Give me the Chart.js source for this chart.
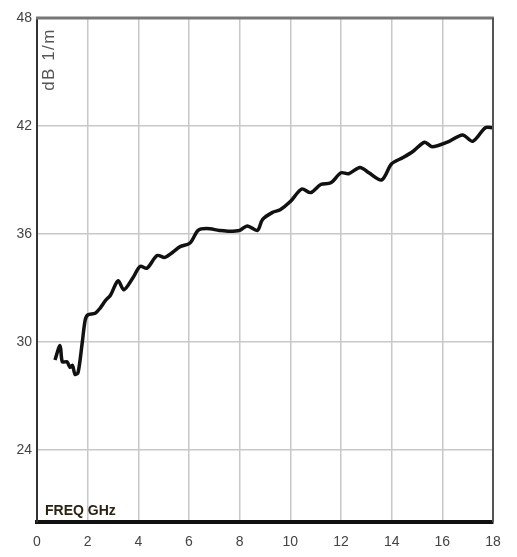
<!DOCTYPE html>
<html>
<head>
<meta charset="utf-8">
<script src="https://cdn.jsdelivr.net/npm/chart.js@4/dist/chart.umd.min.js"></script>
<style>
html,body{margin:0;padding:0;background:#fff;}
#wrap{width:517px;height:557px;}
</style>
</head>
<body>
<div id="wrap"><canvas id="c" width="517" height="557"></canvas></div>
<script>
const freqGHz = [0.71,0.91,1.0,1.18,1.3,1.4,1.5,1.62,1.78,1.9,2.0,2.3,2.5,2.7,2.9,3.2,3.43,3.8,4.07,4.34,4.74,5.05,5.37,5.65,6.04,6.36,6.7,7.2,7.6,8.0,8.3,8.7,8.9,9.3,9.6,10.0,10.45,10.8,11.2,11.6,12.0,12.3,12.75,13.1,13.6,14.0,14.45,14.85,15.3,15.6,16.2,16.8,17.2,17.7,18.0];
const dBperM = [29.0,29.8,28.9,28.9,28.6,28.7,28.2,28.3,29.9,31.2,31.5,31.6,31.9,32.3,32.6,33.4,32.9,33.6,34.2,34.1,34.8,34.7,35.0,35.3,35.5,36.2,36.3,36.2,36.15,36.2,36.45,36.2,36.8,37.2,37.35,37.8,38.5,38.3,38.75,38.85,39.4,39.35,39.7,39.4,39.0,39.9,40.25,40.6,41.1,40.85,41.1,41.5,41.15,41.9,41.9];
const xTicks = [0,2,4,6,8,10,12,14,16,18];
const yTicks = [24,30,36,42,48];
const yLabel = "dB 1/m";
const xLabel = "FREQ GHz";

const points = freqGHz.map((f,i)=>({x:f,y:dBperM[i]}));

const framePlugin = {
  id:'frame',
  afterDraw(chart){
    const {ctx, chartArea:a} = chart;
    ctx.save();
    ctx.strokeStyle='#777'; ctx.lineWidth=3;
    ctx.beginPath(); ctx.moveTo(a.left-1,a.top); ctx.lineTo(a.right+1,a.top); ctx.stroke();
    ctx.strokeStyle='#555'; ctx.lineWidth=2;
    ctx.beginPath(); ctx.moveTo(a.right,a.top); ctx.lineTo(a.right,a.bottom); ctx.stroke();
    ctx.fillStyle='#555';
    ctx.font='17px "Liberation Sans", Arial, sans-serif';
    try{ctx.letterSpacing='1.5px';}catch(e){}
    ctx.translate(a.left+12, a.top+10);
    ctx.rotate(-Math.PI/2);
    ctx.textAlign='right'; ctx.textBaseline='middle';
    ctx.fillText(yLabel,0,0);
    ctx.restore();
    ctx.save();
    ctx.fillStyle='#2a2212';
    ctx.font='bold 14px "Liberation Sans", Arial, sans-serif';
    ctx.textAlign='left'; ctx.textBaseline='middle';
    ctx.fillText(xLabel, a.left+8, a.bottom-11);
    ctx.restore();
  }
};

new Chart(document.getElementById('c'),{
  type:'line',
  data:{datasets:[{data:points,borderColor:'#111',borderWidth:3.5,pointRadius:0,tension:0.3,fill:false}]},
  options:{
    responsive:false,animation:false,
    layout:{padding:{top:18,right:24,left:0,bottom:0}},
    plugins:{legend:{display:false},tooltip:{enabled:false}},
    scales:{
      x:{type:'linear',min:0,max:18,
        afterBuildTicks(s){s.ticks=xTicks.map(v=>({value:v}));},
        afterFit(s){s.height=35;},
        grid:{color:'#c8c8c8',lineWidth:1.5,drawTicks:false},
        border:{color:'#111',width:4},
        ticks:{color:'#444',padding:12,maxRotation:0,font:{size:14,family:'"Liberation Sans", Arial, sans-serif'}}
      },
      y:{type:'linear',min:20,max:48,
        afterBuildTicks(s){s.ticks=yTicks.map(v=>({value:v}));},
        afterFit(s){s.width=37;},
        grid:{color:'#c8c8c8',lineWidth:1.5,drawTicks:false},
        border:{color:'#333',width:2},
        ticks:{color:'#444',padding:5,font:{size:14,family:'"Liberation Sans", Arial, sans-serif'}}
      }
    }
  },
  plugins:[framePlugin]
});
</script>
</body>
</html>
